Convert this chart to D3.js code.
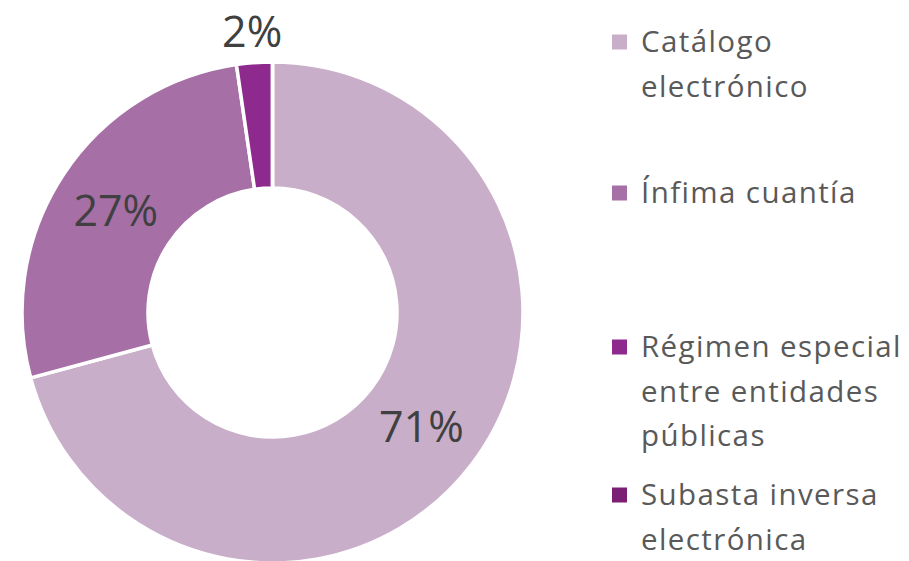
<!DOCTYPE html>
<html>
<head>
<meta charset="utf-8">
<script src="https://cdn.jsdelivr.net/npm/d3@7"></script>
<style>
html,body{margin:0;padding:0;background:#fff;}
svg{display:block;}
</style>
</head>
<body>
<svg id="chart" width="909" height="561"></svg>
<script>
const categories = ["Catálogo electrónico", "Ínfima cuantía", "Régimen especial entre entidades públicas", "Subasta inversa electrónica"];
const values = [70.8, 26.9, 2.3, 0];
const labels = ["71%", "27%", "2%", ""];
const legendLines = [["Catálogo", "electrónico"], ["Ínfima cuantía"], ["Régimen especial", "entre entidades", "públicas"], ["Subasta inversa", "electrónica"]];
const colors = ["#C9AEC9", "#A66FA6", "#8E2A8E", "#7A1F74"];

const svg = d3.select("#chart");
const cx = 272.5, cy = 312.5, outerR = 250.5, innerR = 124.5;
const font = "'Open Sans', sans-serif";

const pie = d3.pie().sort(null).value(d => d);
const arcs = pie(values);
const arc = d3.arc().innerRadius(innerR).outerRadius(outerR);

const g = svg.append("g").attr("transform", `translate(${cx},${cy})`);
g.selectAll("path").data(arcs).join("path")
  .attr("d", arc)
  .attr("fill", (d, i) => colors[i])
  .attr("stroke", "#fff")
  .attr("stroke-width", 3.5)
  .attr("stroke-linejoin", "miter");

const labelRadius = (d) => (d.endAngle - d.startAngle) < 0.3 ? 282 : (innerR + outerR) / 2;
g.selectAll("text.lbl").data(arcs).join("text")
  .attr("class", "lbl")
  .filter((d, i) => labels[i] !== "")
  .attr("x", d => labelRadius(d) * Math.sin((d.startAngle + d.endAngle) / 2))
  .attr("y", d => -labelRadius(d) * Math.cos((d.startAngle + d.endAngle) / 2) + 16)
  .attr("text-anchor", "middle")
  .attr("font-family", font)
  .attr("font-size", 43)
  .attr("fill", "#404040")
  .text((d, i) => labels[i]);

// legend
const legendTop = [42, 193, 347, 495];
const lineH = 44.5;
const lg = svg.append("g");
categories.forEach((c, i) => {
  lg.append("rect")
    .attr("x", 612).attr("y", legendTop[i] - 7.5)
    .attr("width", 15).attr("height", 15)
    .attr("fill", colors[i]);
  const t = lg.append("text")
    .attr("font-family", font)
    .attr("font-size", 29.5)
    .attr("letter-spacing", 1.4)
    .attr("fill", "#595959");
  legendLines[i].forEach((ln, j) => {
    t.append("tspan")
      .attr("x", 641)
      .attr("y", legendTop[i] + 10 + j * lineH)
      .text(ln);
  });
});
</script>
</body>
</html>
